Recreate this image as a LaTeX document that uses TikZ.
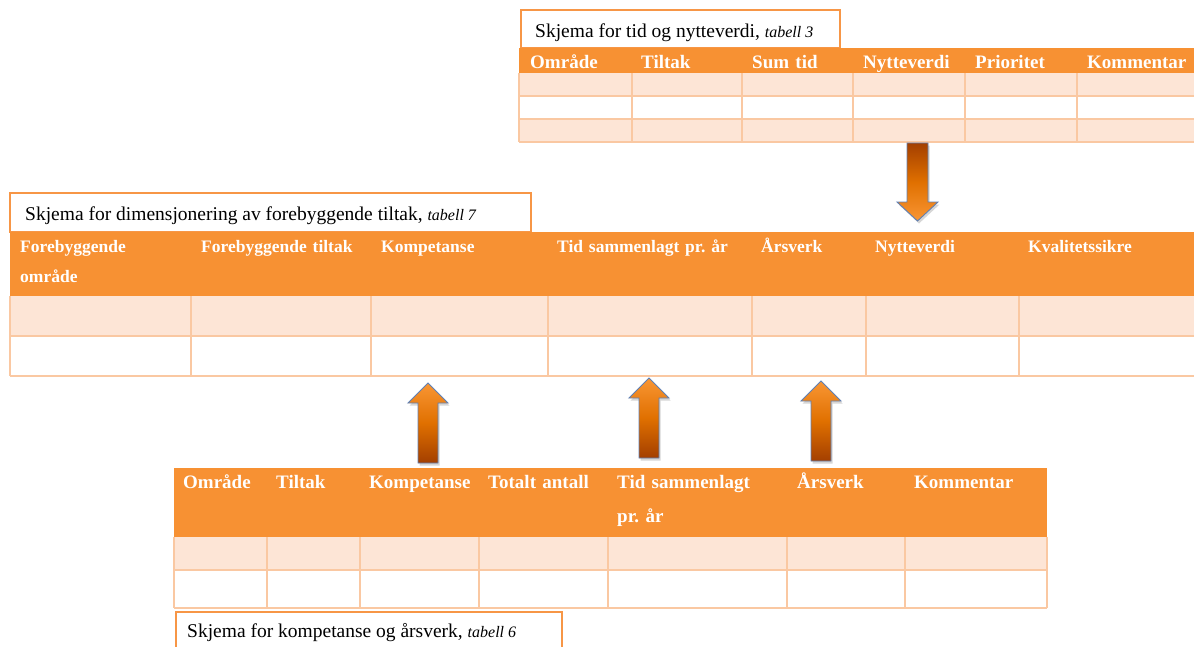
\documentclass[tikz,border=0pt]{standalone}
\usepackage{fontspec}
\setmainfont{Liberation Serif}
\frenchspacing
\definecolor{hdrorange}{RGB}{247,145,51}
\definecolor{rowpeach}{RGB}{253,229,214}
\definecolor{gridpeach}{RGB}{250,200,162}
\definecolor{capline}{RGB}{247,150,70}
\definecolor{arrowlight}{RGB}{249,150,52}
\definecolor{arrowmid}{RGB}{224,112,0}
\definecolor{arrowdark}{RGB}{163,63,0}
\definecolor{arrowedge}{RGB}{95,128,180}
\newcommand\uparrowoutline{(0,0) -- (20,20) -- (10,20) -- (10,80) -- (-10,80) -- (-10,20) -- (-20,20) -- cycle}
\newcommand\downarrowoutline{(0,0) -- (20.5,-19) -- (10.5,-19) -- (10.5,-78) -- (-10.5,-78) -- (-10.5,-19) -- (-20.5,-19) -- cycle}
\tikzset{
  capbox/.style={draw=capline, line width=2pt, fill=white},
  captext/.style={anchor=base west, inner sep=0pt, font=\fontsize{19.5}{20}\selectfont},
  hdrbig/.style={anchor=base west, inner sep=0pt, text=white, align=left,
    text width=240pt, font=\fontsize{19}{34}\selectfont\bfseries\frenchspacing},
  hdrsmall/.style={anchor=base west, inner sep=0pt, text=white, align=left,
    text width=240pt, font=\fontsize{17.5}{30}\selectfont\bfseries\frenchspacing},
  gridline/.style={draw=gridpeach, line width=1.3pt},
  arrowbody/.style={draw=arrowedge, line width=0.9pt},
  arrowshadow/.style={fill=black, opacity=0.16},
  pics/uparrow/.style={code={
    \fill[arrowshadow, shift={(1.5,2.5)}] \uparrowoutline;
    \draw[arrowbody, top color=arrowlight, bottom color=arrowdark, middle color=arrowmid] \uparrowoutline;
  }},
  pics/downarrow/.style={code={
    \fill[arrowshadow, shift={(1.5,2.5)}] \downarrowoutline;
    \draw[arrowbody, top color=arrowdark, bottom color=arrowlight, middle color=arrowmid] \downarrowoutline;
  }}
}
\newcommand\tabref[1]{{\fontsize{16}{16}\selectfont\itshape #1}}
\begin{document}
\begin{tikzpicture}[x=1pt,y=-1pt]
\useasboundingbox (0,0) rectangle (1194,646);
\clip (0,0) rectangle (1194,646);

% ---------- tabell 3: tid og nytteverdi ----------
\draw[capbox] (521,10) rectangle (840,48);
\node[captext] (cap3) at (535,37) {Skjema for tid og nytteverdi, \tabref{tabell 3}};
\fill[hdrorange] (519,48) rectangle (1200,73);
\fill[rowpeach] (519,73) rectangle (1200,96);
\fill[rowpeach] (519,119) rectangle (1200,142);
\foreach \y in {96,119,142} \draw[gridline] (519,\y) -- (1200,\y);
\foreach \x in {519,632,742,853,965,1077} \draw[gridline] (\x,73) -- (\x,142);
\node[hdrbig] (t3a) at (530,68) {Område};
\node[hdrbig] (t3b) at (641,68) {Tiltak};
\node[hdrbig] (t3c) at (752,68) {Sum tid};
\node[hdrbig] (t3d) at (863,68) {Nytteverdi};
\node[hdrbig] (t3e) at (975,68) {Prioritet};
\node[hdrbig] (t3f) at (1087,68) {Kommentar};

% ---------- tabell 7: dimensjonering ----------
\draw[capbox] (10,193) rectangle (531,232);
\node[captext] (cap7) at (25,220) {Skjema for dimensjonering av forebyggende tiltak, \tabref{tabell 7}};
\fill[hdrorange] (10,232) rectangle (1200,296);
\fill[rowpeach] (10,296) rectangle (1200,336);
\foreach \y in {336,376} \draw[gridline] (10,\y) -- (1200,\y);
\foreach \x in {10,191,371,548,752,866,1019} \draw[gridline] (\x,296) -- (\x,376);
\node[hdrsmall] (t7a) at (20,252) {Forebyggende\\område};
\node[hdrsmall] (t7b) at (201,252) {Forebyggende tiltak};
\node[hdrsmall] (t7c) at (381,252) {Kompetanse};
\node[hdrsmall] (t7d) at (557,252) {Tid sammenlagt pr. år};
\node[hdrsmall] (t7e) at (761,252) {Årsverk};
\node[hdrsmall] (t7f) at (875,252) {Nytteverdi};
\node[hdrsmall] (t7g) at (1028,252) {Kvalitetssikre};

% ---------- tabell 6: kompetanse og årsverk ----------
\fill[hdrorange] (174,468) rectangle (1047,537);
\fill[rowpeach] (174,537) rectangle (1047,570);
\foreach \y in {570,608} \draw[gridline] (174,\y) -- (1047,\y);
\foreach \x in {174,267,360,479,608,787,905,1047} \draw[gridline] (\x,537) -- (\x,608);
\node[hdrbig] (t6a) at (183,488) {Område};
\node[hdrbig] (t6b) at (276,488) {Tiltak};
\node[hdrbig] (t6c) at (369,488) {Kompetanse};
\node[hdrbig] (t6d) at (488,488) {Totalt antall};
\node[hdrbig] (t6e) at (617,488) {Tid sammenlagt\\pr. år};
\node[hdrbig] (t6f) at (797,488) {Årsverk};
\node[hdrbig] (t6g) at (914,488) {Kommentar};
\draw[capbox] (176,612) rectangle (562,660);
\node[captext] (cap6) at (187,637) {Skjema for kompetanse og årsverk, \tabref{tabell 6}};

% ---------- block arrows between the tables ----------
\pic (arrA) at (917.5,221) {downarrow};
\pic (arrB) at (428,383) {uparrow};
\pic (arrC) at (649,378) {uparrow};
\pic (arrD) at (821,381) {uparrow};
\end{tikzpicture}
\end{document}
